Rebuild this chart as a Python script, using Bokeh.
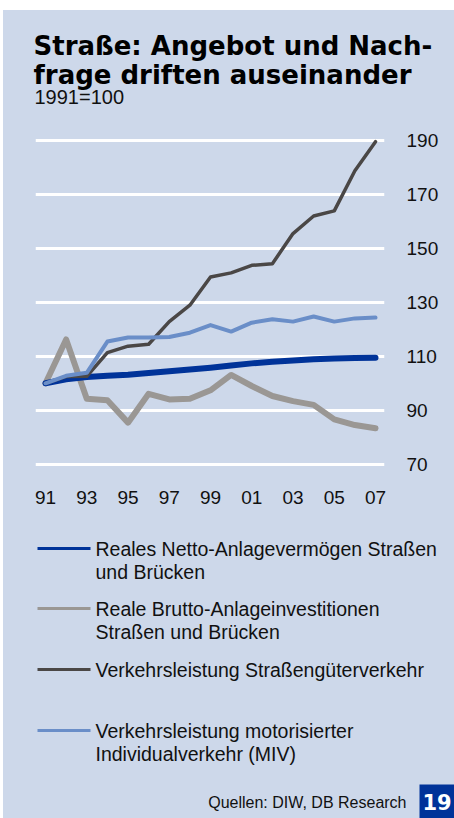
from bokeh.plotting import figure
from bokeh.models import Range1d, FixedTicker
from bokeh.layouts import column
from bokeh.core.properties import value
from bokeh.embed import file_html
from bokeh.resources import INLINE

# ---- data ----
years = list(range(1991, 2008))
netto = [100, 101.5, 102.3, 102.8, 103.2, 103.8, 104.5, 105.1, 105.8, 106.6, 107.4, 108.0, 108.5, 108.9, 109.2, 109.4, 109.5]
brutto = [100, 116.3, 94.3, 93.7, 85.4, 96.1, 94.0, 94.3, 97.4, 103.1, 99.0, 95.3, 93.4, 92.0, 86.6, 84.5, 83.3]
gueter = [100, 102.5, 102.6, 111.4, 113.8, 114.5, 122.9, 129.0, 139.5, 141.0, 143.8, 144.4, 155.6, 162.1, 164.0, 178.9, 189.7]
miv = [100, 102.8, 103.9, 115.5, 117.0, 117.0, 117.2, 118.8, 121.6, 119.2, 122.5, 123.8, 122.9, 124.8, 122.9, 124.1, 124.4]
y_ticks = [70, 90, 110, 130, 150, 170, 190]
x_ticks = [1991, 1993, 1995, 1997, 1999, 2001, 2003, 2005, 2007]
x_tick_labels = ["91", "93", "95", "97", "99", "01", "03", "05", "07"]
series_names = [
    ["Reales Netto-Anlagevermögen Straßen", "und Brücken"],
    ["Reale Brutto-Anlageinvestitionen", "Straßen und Brücken"],
    ["Verkehrsleistung Straßengüterverkehr"],
    ["Verkehrsleistung motorisierter", "Individualverkehr (MIV)"],
]
title_lines = ["Straße: Angebot und Nach-", "frage driften auseinander"]
subtitle = "1991=100"
source = "Quellen: DIW, DB Research"
page_no = "19"

# ---- style ----
BG = "#CDD8EA"
C_NETTO = "#003399"
C_BRUTTO = "#9A9794"
C_GUETER = "#4A4746"
C_MIV = "#6A8EC8"
FONT = "Liberation Sans"
TXT = "#111111"
W = 451
DY = -6  # baseline correction


def blank(height):
    f = figure(width=W, height=height, x_range=Range1d(0, W), y_range=Range1d(height, 0),
               output_backend="svg", toolbar_location=None, x_axis_location=None,
               y_axis_location=None, min_border=0, title=None, frame_align=False)
    f.background_fill_color = BG
    f.border_fill_color = BG
    f.outline_line_color = None
    f.grid.visible = False
    return f


# ---- header ----
HEAD_H = 117
head = blank(HEAD_H)
head.text(x=[30, 30], y=[41 + DY, 70 + DY], text=title_lines, text_font=value("DejaVu Sans"),
          text_font_size=value("26px"), text_font_style="bold", text_color="black",
          text_baseline="alphabetic")
head.text(x=[31], y=[92 + DY], text=[subtitle], text_font=value(FONT), text_font_size=value("20px"),
          text_color=TXT, text_baseline="alphabetic")

# ---- chart ----
p = figure(width=W, height=387, x_range=Range1d(1990.515, 2007.436), y_range=Range1d(68, 192),
           output_backend="svg", toolbar_location=None, y_axis_location="right", title=None,
           min_border_left=32, min_border_right=70, min_border_top=8, min_border_bottom=45,
           frame_align=False)
p.background_fill_color = BG
p.border_fill_color = BG
p.outline_line_color = None
p.xgrid.grid_line_color = None
p.ygrid.grid_line_color = "white"
p.ygrid.grid_line_width = 3

yax = p.yaxis[0]
yax.ticker = FixedTicker(ticks=y_ticks)
xax = p.xaxis[0]
xax.ticker = FixedTicker(ticks=x_ticks)
xax.major_label_overrides = {t: l for t, l in zip(x_ticks, x_tick_labels)}
for ax in (xax, yax):
    ax.axis_line_color = None
    ax.major_tick_line_color = None
    ax.minor_tick_line_color = None
    ax.major_tick_out = 0
    ax.major_tick_in = 0
    ax.major_label_text_font = FONT
    ax.major_label_text_font_size = "19px"
    ax.major_label_text_color = TXT
yax.major_label_standoff = 22
xax.major_label_standoff = 21

p.line(years, brutto, line_color=C_BRUTTO, line_width=6, line_cap="round", line_join="round")
p.line(years, netto, line_color=C_NETTO, line_width=6, line_cap="round", line_join="round")
p.line(years, gueter, line_color=C_GUETER, line_width=3.5, line_cap="round", line_join="round")
p.line(years, miv, line_color=C_MIV, line_width=4, line_cap="round", line_join="round")

# ---- legend / footer ----
LEG_H = 304
leg = blank(LEG_H)
colors = [C_NETTO, C_BRUTTO, C_GUETER, C_MIV]
line_ys = [34, 94, 155, 216]
for name, col, ly in zip(series_names, colors, line_ys):
    leg.segment(x0=[34], y0=[ly], x1=[87], y1=[ly], line_color=col, line_width=3)
    leg.text(x=[92] * len(name), y=[ly + 6 + DY + 23.5 * i for i in range(len(name))], text=name,
             text_font=value(FONT), text_font_size=value("19.5px"), text_color=TXT,
             text_baseline="alphabetic")
leg.text(x=[403], y=[294 + DY], text=[source], text_font=value(FONT), text_font_size=value("16px"),
         text_color=TXT, text_align="right", text_baseline="alphabetic")
leg.quad(left=[416], right=[451], top=[270], bottom=[304], fill_color=C_NETTO, line_color=None)
leg.text(x=[433.5], y=[287], text=[page_no], text_font=value("DejaVu Sans"),
         text_font_size=value("21px"), text_font_style="bold", text_color="white",
         text_align="center", text_baseline="middle")

layout = column(head, p, leg, spacing=0, margin=(10, 0, 0, 3),
                styles={"background-color": BG})
open("out.html", "w").write(file_html(layout, INLINE))
